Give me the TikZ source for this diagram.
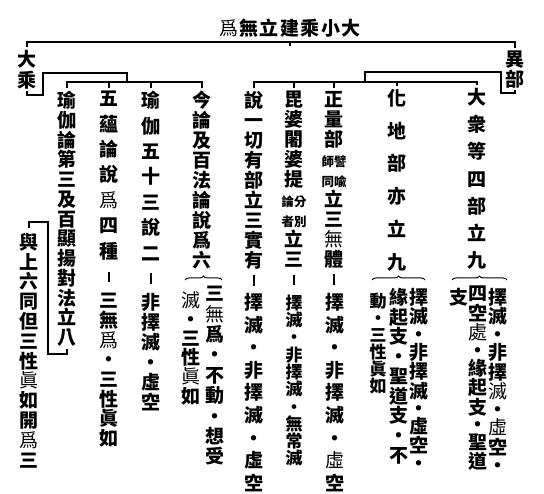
\documentclass[tikz,border=0pt]{standalone}
\usepackage{fontspec}
\newfontfamily\cjk{Noto Sans CJK TC}
\usetikzlibrary{decorations.pathreplacing}
\tikzstyle{link} = [line width=1.1pt]
\tikzstyle{hbrace} = [line width=1pt, decorate, decoration={brace, amplitude=4pt}]
\tikzset{col/.style={align=center, inner sep=0pt, anchor=north, font={\cjk\bfseries\fontsize{19}{#1}\selectfont\lineskiplimit-50pt}},
  tightcol/.style={col=#1, font={\cjk\bfseries\fontsize{17}{#1}\selectfont\lineskiplimit-50pt}}}
\makeatletter
\def\vt@dot{・}
\newdimen\vt@dk
\newtoks\vt@toks
\newcommand\vt@add[1]{\vt@toks\expandafter{\the\vt@toks#1}}
\newcommand\vt@additem[1]{\vt@toks\expandafter{\the\vt@toks{#1}}}
% stack the characters of a column, one per line
\newcommand\vcol[2][0pt]{\global\vt@dk=#1\relax\let\vt@prev\relax\vt@toks{}%
  \@tfor\vt@c:=#2\do{%
    \ifx\vt@prev\relax\else
      \ifx\vt@c\vt@dot\vt@add{\\[-\vt@dk]}%
      \else\ifx\vt@prev\vt@dot\vt@add{\\[-\vt@dk]}%
      \else\vt@add{\\}\fi\fi
    \fi
    \expandafter\vt@additem\expandafter{\vt@c}\let\vt@prev\vt@c}%
  \the\vt@toks}
\newcommand\hrow[1]{\let\vt@prev\relax
  \@tfor\vt@c:=#1\do{\ifx\vt@prev\relax\else\kern1.5pt\fi{\vt@c}\let\vt@prev\vt@c}}
\makeatother
\newcommand\lite{\mdseries}
\newcommand\smpair[1]{\fontsize{12.5}{12.5}\selectfont #1}
\newcommand\stick{\rule[1.5pt]{1.4pt}{10.5pt}}
\begin{document}
\begin{tikzpicture}[x=1pt, y=1pt]
\fill[white] (0,0) rectangle (544,-494);
% title and the two schools
\node (tt) [font=\cjk\bfseries\fontsize{19}{19}\selectfont] at (290,-28) {\hrow{{\lite 爲}無立建乘小大}};
\node (dc) [col=21] at (27,-50) {\vcol{大乘}};
\node (yb) [col=19.5] at (515,-51) {\vcol{異部}};
% left side
\node (L1) [col=20] at (202,-91) {\vcol{今論及百法論說爲六}};
\node (L1a) [col=20.4] at (215,-286) {\vcol{三{\lite 無}爲・不動・想受}};
\node (L1b) [col=19.2] at (191,-291) {\vcol{{\lite 滅}・三性{\lite 眞}如}};
\node (L2) [col=25.4] at (151,-91) {\vcol{瑜伽五十三說二\stick}};
\node (L2b) [col=20] at (151,-293) {\vcol{非擇滅・虛空}};
\node (L3) [col=25.4] at (109,-91) {\vcol{五蘊論說{\lite 爲}四種\stick}};
\node (L3b) [col=19.7] at (109,-293) {\vcol{三無{\lite 爲}・三性眞如}};
\node (L4) [col=19.75] at (67,-91) {\vcol{瑜伽論第三及百顯揚對法立八}};
\node (L5) [col=19.8] at (29,-233) {\vcol{與上六同但三性{\lite 眞}如開{\lite 爲}三}};
% right side
\node (R1) [col=20] at (254,-91) {\vcol{說一切有部立三實有\stick}};
\node (R1b) [col=22.6] at (254,-293) {\vcol{擇滅・非擇滅・虛空}};
\node (R2) [col=20] at (294,-91) {\vcol{毘婆闍婆提{\smpair{論分}}{\smpair{者別}}立三\stick}};
\node (R2b) [tightcol=17.3] at (294,-294.5) {\vcol{擇滅・非擇滅・無常滅}};
\node (R3) [col=20] at (334,-91) {\vcol{正量部{\smpair{師譬}}{\smpair{同喩}}立三{\lite 無}體\stick}};
\node (R3b) [col=22.6] at (335,-293) {\vcol{擇滅・非擇滅・{\lite 虛}空}};
\node (R4) [col=32.8] at (397,-89) {\vcol{化地部亦立九}};
\node (R4a) [col=19.5] at (419,-288) {\vcol[1.9pt]{擇滅・非擇滅・虛空・}};
\node (R4b) [col=19.75] at (399,-288) {\vcol{緣起支・聖道支・不}};
\node (R4c) [tightcol=17] at (378,-292.5) {\vcol{動・三性眞如}};
\node (R5) [col=27.2] at (477,-88) {\vcol{大衆等四部立九}};
\node (R5a) [col=19.5] at (498,-288) {\vcol[1.5pt]{擇滅・非擇{\lite 滅}・{\lite 虛}空・}};
\node (R5b) [col=19.5] at (478,-286) {\vcol[1.9pt]{四空{\lite 處}・緣起支・聖道}};
\node (R5c) [col=19] at (459,-288) {\vcol{支}};
% top line
\coordinate (tj) at (290,-42);
\draw [link, shorten <=3pt, shorten >=3pt] (dc.north) |- (tj) -| (yb.north);
\draw [link] (tj) -- ++(0,-4);
% left tree
\coordinate (lk) at (43,-95);
\coordinate (lj) at (127,-73);
\coordinate (lm) at (127,-82);
\draw [link, shorten <=2pt] (dc.south) |- (lk) |- (lj) -- (lm);
\draw [link, shorten <=3pt, shorten >=3pt] (L4.north) |- (lm) -| (L1.north);
\draw [link, shorten <=3pt] (L2.north) -- (L2.north |- lm);
\draw [link, shorten <=3pt] (L3.north) -- (L3.north |- lm);
\coordinate (kb) at (48,-354);
\coordinate (kt) at (29,-222);
\draw [link, shorten <=2pt, shorten >=5pt] (L4.south) |- (kb) |- (kt) -- (L5.north);
% right tree
\coordinate (rk) at (501,-93);
\coordinate (rj) at (365,-72);
\coordinate (rm) at (365,-82);
\draw [link, shorten <=2pt] (yb.south) |- (rk) |- (rj) -- (rm);
\draw [link, shorten <=3pt, shorten >=3pt] (R1.north) |- (rm) -| (R5.north);
\draw [link, shorten <=3pt] (R2.north) -- (R2.north |- rm);
\draw [link, shorten <=3pt] (R3.north) -- (R3.north |- rm);
\draw [link, shorten <=3pt] (R4.north) -- (R4.north |- rm);
% braces
\coordinate (b1l) at (185,-280);
\coordinate (b1r) at (222,-280);
\draw [hbrace] (b1l) -- (b1r);
\coordinate (b4l) at (372,-280);
\coordinate (b4r) at (425,-280);
\draw [hbrace] (b4l) -- (b4r);
\coordinate (b5l) at (452,-280);
\coordinate (b5r) at (507,-280);
\draw [hbrace] (b5l) -- (b5r);
\end{tikzpicture}
\end{document}
